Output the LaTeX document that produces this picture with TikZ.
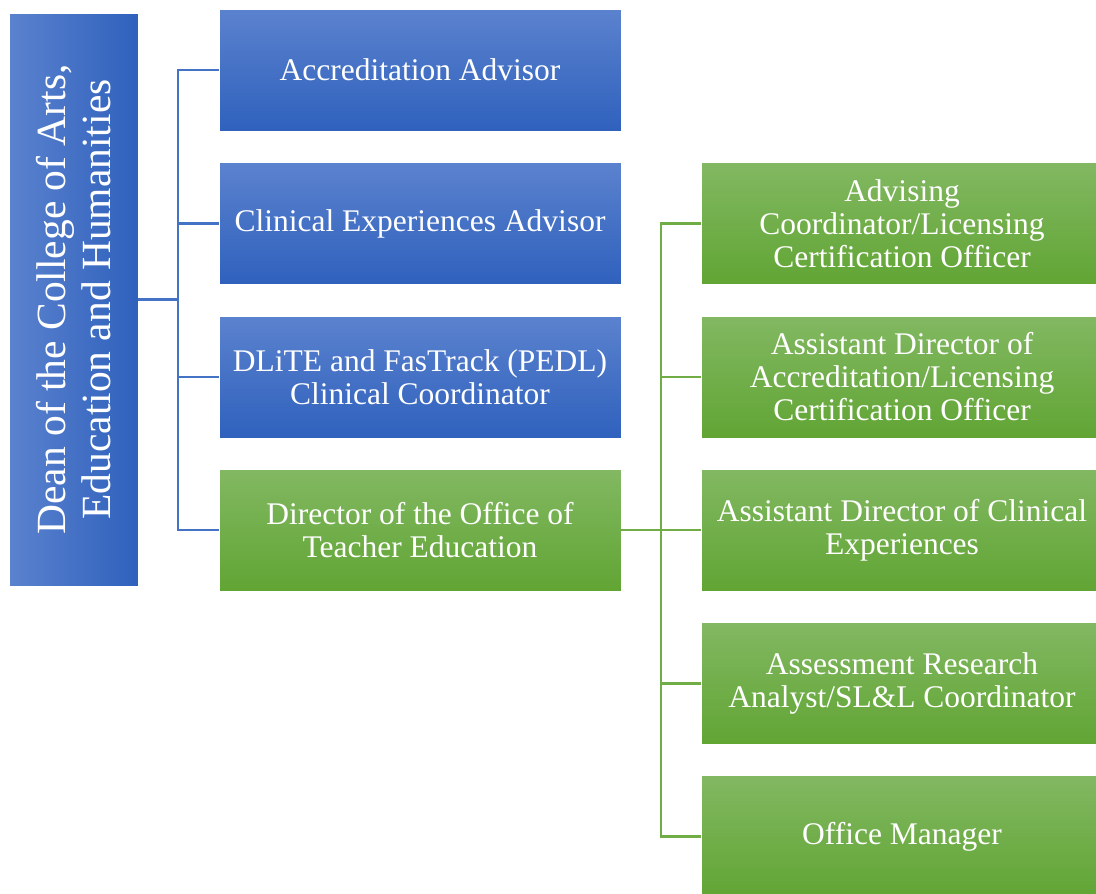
\documentclass[tikz,border=0pt]{standalone}
\usepackage{fontspec}
\setmainfont{Liberation Serif}
\usepackage{tikz}
\usepackage{xcolor}

\definecolor{bluetop}{HTML}{5B82CE}
\definecolor{bluebot}{HTML}{2F61BD}
\definecolor{greentop}{HTML}{82B862}
\definecolor{greenbot}{HTML}{61A534}
\definecolor{blueline}{HTML}{4472C4}
\definecolor{greenline}{HTML}{70AD47}

\begin{document}
\begin{tikzpicture}[x=1pt, y=-1pt,
    box/.style={rectangle, draw=white, line width=0.6pt, text=white, align=center, inner sep=2pt,
        minimum width=402pt, minimum height=122pt, font=\fontsize{31.5}{33}\selectfont},
    bluebox/.style={box, top color=bluetop, bottom color=bluebot},
    greenbox/.style={box, top color=greentop, bottom color=greenbot},
    deanbox/.style={box, left color=bluetop, right color=bluebot, rotate=90, minimum width=573pt, minimum height=129pt,
        font=\fontsize{41.5}{45}\selectfont},
    bline/.style={draw=blueline, line width=2.6pt},
    gline/.style={draw=greenline, line width=2.6pt}]
    \useasboundingbox (0,0) rectangle (1096,894);

    \node[deanbox] (dean) at (73.5,299.5) {Dean of the College of Arts,\\Education and Humanities};

    \node[bluebox] (accr) at (420,70) {Accreditation Advisor};
    \node[bluebox] (clin) at (420,223.5) {Clinical Experiences Advisor};
    \node[bluebox] (dlite) at (420,377) {DLiTE and FasTrack (PEDL)\\Clinical Coordinator};
    \node[greenbox] (dir) at (420,530) {Director of the Office of\\Teacher Education};

    \node[greenbox] (advis) at (902,223.5) {Advising\\Coordinator/Licensing\\Certification Officer};
    \node[greenbox] (asst) at (902,377) {Assistant Director of\\Accreditation/Licensing\\Certification Officer};
    \node[greenbox] (asclin) at (902,530) {Assistant Director of Clinical\\Experiences};
    \node[greenbox] (assess) at (902,683.5) {Assessment Research\\Analyst/SL\&L Coordinator};
    \node[greenbox] (office) at (902,836.5) {Office Manager};

    % dean to his staff
    \coordinate (bj) at (178,299.5);
    \draw[bline] (dean.south) -- (bj);
    \foreach \n in {accr, clin, dlite, dir}
        \draw[bline] (bj) |- (\n.west);

    % director to the office
    \coordinate (gj) at (661,530);
    \draw[gline] (dir.east) -- (gj);
    \foreach \n in {advis, asst, asclin, assess, office}
        \draw[gline] (gj) |- (\n.west);
\end{tikzpicture}
\end{document}
